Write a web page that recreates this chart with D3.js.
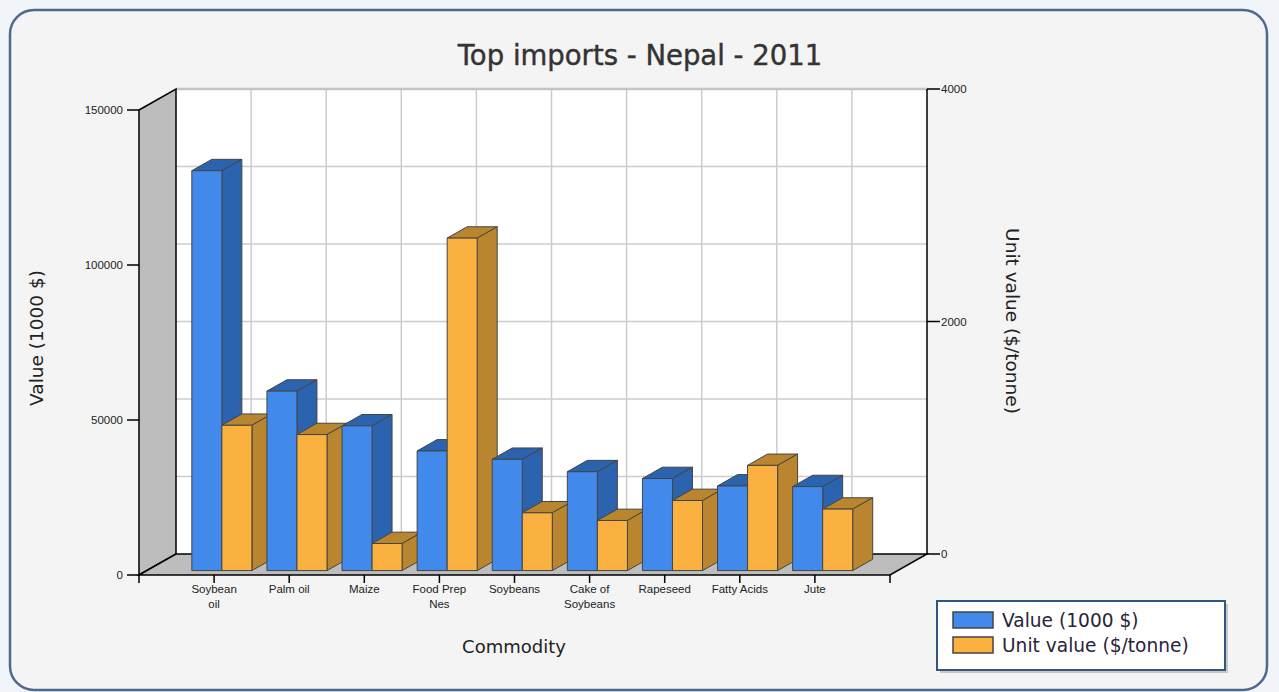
<!DOCTYPE html>
<html>
<head>
<meta charset="utf-8">
<script src="https://cdn.jsdelivr.net/npm/d3@7"></script>
<style>
  html, body { margin: 0; padding: 0; background: #f1f5f9; }
  svg { display: block; }
</style>
</head>
<body>
<div id="chart"></div>
<script>
// data
const categories = ["Soybean oil", "Palm oil", "Maize", "Food Prep Nes", "Soybeans", "Cake of Soybeans", "Rapeseed", "Fatty Acids", "Jute"];
const labelLines = [["Soybean", "oil"], ["Palm oil"], ["Maize"], ["Food Prep", "Nes"], ["Soybeans"], ["Cake of", "Soybeans"], ["Rapeseed"], ["Fatty Acids"], ["Jute"]];
const valueK = [129000, 57900, 46700, 38600, 35900, 31900, 29700, 27300, 27100];
const unitValue = [1250, 1170, 233, 2860, 497, 431, 603, 905, 529];
const leftTicks = [0, 50000, 100000, 150000];
const leftGrid = [25000, 50000, 75000, 100000, 125000];
const rightTicks = [0, 2000, 4000];
const seriesNames = ["Value (1000 $)", "Unit value ($/tonne)"];

const W = 1279, H = 692;
const DX = 37, DY = -21;          // depth of the 3d box
const Z0 = 0.21, Z1 = 0.75;       // bar front / back depth
const colors = {
    blue: { front: "#4189ea", side: "#2c63ae" },
    orange: { front: "#fab13f", side: "#b9852f" }
};

const svg = d3.select("#chart").append("svg").attr("width", W).attr("height", H);

// outer frame
svg.append("rect").attr("x", 10).attr("y", 10).attr("width", 1257).attr("height", 680)
    .attr("rx", 24).attr("fill", "#f4f4f4").attr("stroke", "#4d6a8e").attr("stroke-width", 2.5);

svg.append("text").attr("x", 640).attr("y", 65).attr("text-anchor", "middle")
    .attr("font-family", "DejaVu Sans").attr("font-size", 27.5).attr("fill", "#333")
    .attr("stroke", "#333").attr("stroke-width", 0.4)
    .text("Top imports - Nepal - 2011");

const x = d3.scaleLinear().domain([0, categories.length + 1]).range([139, 890]);
const yL = d3.scaleLinear().domain([0, 150000]).range([575, 110]);
const yR = d3.scaleLinear().domain([0, 4000]).range([575, 110]);

const P = (px, py, z) => [px + z * DX, py + z * DY];
const poly = pts => "M" + pts.map(p => p.join(",")).join("L") + "Z";

const x0 = x(0), x1 = x(categories.length + 1), yTop = yL(150000), yBot = yL(0);

// back wall
svg.append("path").attr("d", poly([P(x0, yTop, 1), P(x1, yTop, 1), P(x1, yBot, 1), P(x0, yBot, 1)]))
    .attr("fill", "#ffffff");

// grid on back wall
svg.append("g").selectAll("line").data(leftGrid).join("line")
    .attr("x1", P(x0, 0, 1)[0]).attr("x2", P(x1, 0, 1)[0])
    .attr("y1", d => P(0, yL(d), 1)[1]).attr("y2", d => P(0, yL(d), 1)[1])
    .attr("stroke", "#cccccc").attr("stroke-width", 1.5);
svg.append("g").selectAll("line").data(d3.range(1, categories.length + 1)).join("line")
    .attr("x1", d => P(x(d), 0, 1)[0]).attr("x2", d => P(x(d), 0, 1)[0])
    .attr("y1", P(0, yTop, 1)[1]).attr("y2", P(0, yBot, 1)[1])
    .attr("stroke", "#cccccc").attr("stroke-width", 1.5);
svg.append("line")
    .attr("x1", P(x0, yTop, 1)[0]).attr("x2", P(x1, yTop, 1)[0])
    .attr("y1", P(x0, yTop, 1)[1]).attr("y2", P(x1, yTop, 1)[1])
    .attr("stroke", "#c4c4c4").attr("stroke-width", 2.5);

// left wall and floor
svg.append("path").attr("d", poly([P(x0, yTop, 0), P(x0, yTop, 1), P(x0, yBot, 1), P(x0, yBot, 0)]))
    .attr("fill", "#bdbdbd").attr("stroke", "#000").attr("stroke-width", 1.5);
svg.append("path").attr("d", poly([P(x0, yBot, 0), P(x0, yBot, 1), P(x1, yBot, 1), P(x1, yBot, 0)]))
    .attr("fill", "#bdbdbd").attr("stroke", "#000").attr("stroke-width", 1.5);

// right axis on back wall
svg.append("line").attr("x1", P(x1, 0, 1)[0]).attr("x2", P(x1, 0, 1)[0])
    .attr("y1", P(0, yTop, 1)[1]).attr("y2", P(0, yBot, 1)[1])
    .attr("stroke", "#000").attr("stroke-width", 1.5);
const rAx = svg.append("g").selectAll("g").data(rightTicks).join("g")
    .attr("transform", d => `translate(${P(x1, yR(d), 1).join(",")})`);
rAx.append("line").attr("x2", 13).attr("stroke", "#000").attr("stroke-width", 1.5);
rAx.append("text").attr("x", 14).attr("dy", "0.35em")
    .attr("font-family", "Liberation Sans").attr("font-size", 11.5).attr("fill", "#222")
    .text(d => d);

// left axis
const lAx = svg.append("g").selectAll("g").data(leftTicks).join("g")
    .attr("transform", d => `translate(${x0},${yL(d)})`);
lAx.append("line").attr("x1", -12).attr("stroke", "#000").attr("stroke-width", 1.5);
lAx.append("text").attr("x", -16).attr("dy", "0.35em").attr("text-anchor", "end")
    .attr("font-family", "Liberation Sans").attr("font-size", 11.5).attr("fill", "#222")
    .text(d => d);

// bottom ticks
svg.append("g").selectAll("line").data(d3.range(0, categories.length + 2)).join("line")
    .attr("x1", d => x(d)).attr("x2", d => x(d)).attr("y1", yBot).attr("y2", yBot + 8)
    .attr("stroke", "#000").attr("stroke-width", 1.5);

// bars
const bw = (x(1) - x(0)) * 0.4;
function bar(g, xa, xb, yv, c) {
    g.append("path").attr("d", poly([P(xa, yv, Z0), P(xa, yv, Z1), P(xb, yv, Z1), P(xb, yv, Z0)]))
        .attr("fill", c.side).attr("stroke", "#444").attr("stroke-width", 1);
    g.append("path").attr("d", poly([P(xb, yv, Z0), P(xb, yv, Z1), P(xb, yBot, Z1), P(xb, yBot, Z0)]))
        .attr("fill", c.side).attr("stroke", "#444").attr("stroke-width", 1);
    g.append("path").attr("d", poly([P(xa, yv, Z0), P(xb, yv, Z0), P(xb, yBot, Z0), P(xa, yBot, Z0)]))
        .attr("fill", c.front).attr("stroke", "#444").attr("stroke-width", 1);
}
const bars = svg.append("g");
categories.forEach((cat, i) => {
    const cx = x(i + 1);
    bar(bars, cx - bw, cx, yL(valueK[i]), colors.blue);
    bar(bars, cx, cx + bw, yR(unitValue[i]), colors.orange);
});

// category labels
const xl = svg.append("g").selectAll("text").data(labelLines).join("text")
    .attr("x", (d, i) => x(i + 1)).attr("y", yBot + 18).attr("text-anchor", "middle")
    .attr("font-family", "Liberation Sans").attr("font-size", 11.5).attr("fill", "#222");
xl.selectAll("tspan").data(d => d).join("tspan")
    .attr("x", function() { return d3.select(this.parentNode).attr("x"); })
    .attr("dy", (d, j) => j === 0 ? 0 : 15)
    .text(d => d);

// axis titles
svg.append("text").attr("x", 514).attr("y", 653).attr("text-anchor", "middle")
    .attr("font-family", "DejaVu Sans").attr("font-size", 18).attr("fill", "#222").text("Commodity");
svg.append("text").attr("transform", "translate(43,338) rotate(-90)").attr("text-anchor", "middle")
    .attr("font-family", "DejaVu Sans").attr("font-size", 18.5).attr("fill", "#222").text("Value (1000 $)");
svg.append("text").attr("transform", "translate(1006,321) rotate(90)").attr("text-anchor", "middle")
    .attr("font-family", "DejaVu Sans").attr("font-size", 18.5).attr("fill", "#222").text("Unit value ($/tonne)");

// legend
const lg = svg.append("g").attr("transform", "translate(937,601)");
lg.append("rect").attr("x", 3).attr("y", 3).attr("width", 288).attr("height", 69).attr("fill", "#c8c8c8");
lg.append("rect").attr("width", 288).attr("height", 69).attr("fill", "#fff")
    .attr("stroke", "#34557e").attr("stroke-width", 2);
const li = lg.selectAll("g.item").data(seriesNames).join("g").attr("class", "item")
    .attr("transform", (d, i) => `translate(16,${11 + i * 25})`);
li.append("rect").attr("width", 40).attr("height", 16)
    .attr("fill", (d, i) => i === 0 ? colors.blue.front : colors.orange.front)
    .attr("stroke", "#444").attr("stroke-width", 1.5);
li.append("text").attr("x", 49).attr("y", 8).attr("dy", "0.36em")
    .attr("font-family", "DejaVu Sans").attr("font-size", 18.6).attr("fill", "#2a2338")
    .text(d => d);
</script>
</body>
</html>
